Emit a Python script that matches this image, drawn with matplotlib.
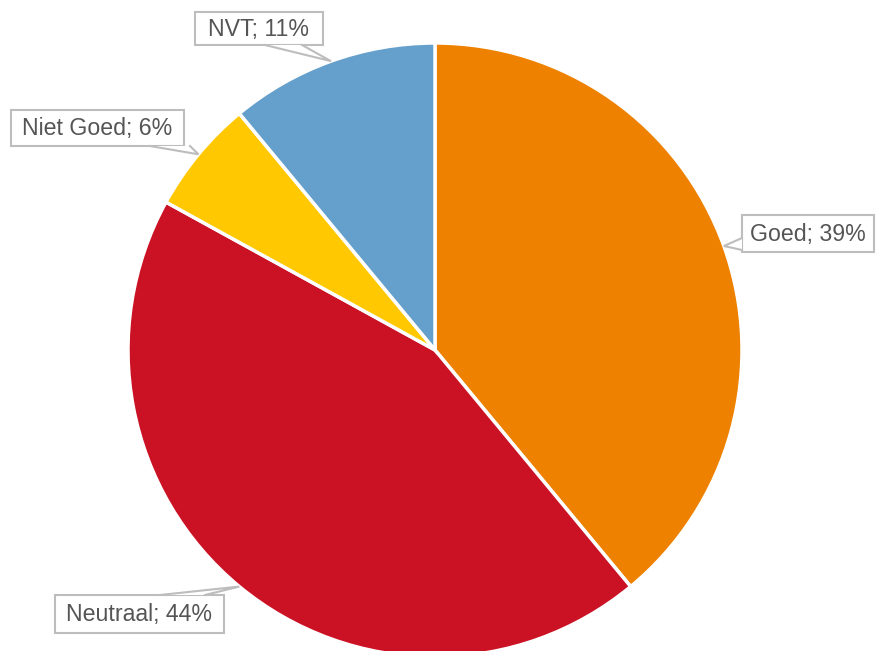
import matplotlib.pyplot as plt
import numpy as np
from matplotlib.patches import Rectangle, Polygon

labels = ["Goed", "Neutraal", "Niet Goed", "NVT"]
values = [39, 44, 6, 11]
colors = ["#EE8100", "#CB1225", "#FFC800", "#64A0CB"]

# label box layout in pixels: (x0, y0, x1, y1) and pointer base on box edge
boxes = [(742, 215, 874, 252), (55, 595, 224, 633), (11, 110, 184, 146), (195, 12, 323, 45)]
bases = [((742, 238), (742, 250)), ((160, 595), (205, 595)),
         ((150, 146), (190, 146)), ((265, 45), (302, 45))]

W, H = 876, 651
cx, cy, r = 435, 350, 307
edge = "#BDBDBD"

fig = plt.figure(figsize=(W / 100, H / 100), dpi=100)
ax = fig.add_axes([0, 0, 1, 1])

ax.pie(values, colors=colors, startangle=-90, counterclock=True,
       center=(cx, cy), radius=r, frame=True,
       wedgeprops=dict(edgecolor="white", linewidth=2.5))
ax.set_xlim(0, W)
ax.set_ylim(H, 0)
ax.set_aspect("equal")
ax.axis("off")

total = sum(values)
cum = np.cumsum([0] + values)
for i, (lab, v) in enumerate(zip(labels, values)):
    mid = (cum[i] + v / 2) / total * 360
    ang = np.deg2rad(-90 + mid)
    tip = (cx + r * np.cos(ang), cy + r * np.sin(ang))
    b1, b2 = bases[i]
    x0, y0, x1, y1 = boxes[i]
    ax.add_patch(Rectangle((x0, y0), x1 - x0, y1 - y0, facecolor="white",
                           edgecolor=edge, linewidth=1.5, zorder=5))
    # callout pointer: white inside, grey sides, opens into the box border
    ax.add_patch(Polygon([b1, b2, tip], closed=True, facecolor="white",
                         edgecolor="none", zorder=6))
    ax.plot([b1[0], tip[0], b2[0]], [b1[1], tip[1], b2[1]], color=edge,
            linewidth=1.5, zorder=7, solid_joinstyle="miter")
    ax.text((x0 + x1) / 2, (y0 + y1) / 2 + 1, f"{lab}; {v}%", ha="center", va="center",
            fontsize=16.7, color="#555555", family="Liberation Sans", zorder=8)

fig.savefig("out.png", dpi=100)
